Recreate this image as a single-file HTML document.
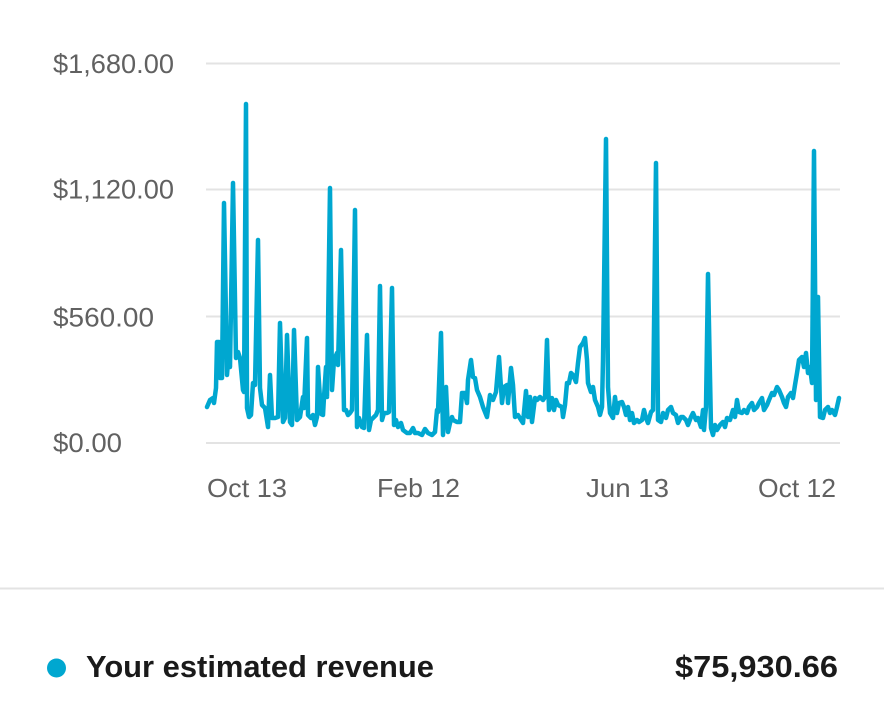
<!DOCTYPE html>
<html>
<head>
<meta charset="utf-8">
<style>
  html, body { margin: 0; padding: 0; background: #ffffff; }
  svg { display: block; }
  .yl { font-family: "Liberation Sans", sans-serif; font-size: 27px; fill: #616161; }
  .xl { font-family: "Liberation Sans", sans-serif; font-size: 26px; fill: #616161; }
  .lg { font-family: "Liberation Sans", sans-serif; font-size: 31px; font-weight: bold; fill: #1a1a1a; }
</style>
</head>
<body>
<svg width="884" height="715" viewBox="0 0 884 715" xmlns="http://www.w3.org/2000/svg">
  <rect x="0" y="0" width="884" height="715" fill="#ffffff"/>
  <!-- gridlines -->
  <g stroke="#e3e3e3" stroke-width="2">
    <line x1="206" y1="63.5" x2="840" y2="63.5"/>
    <line x1="206" y1="189.5" x2="840" y2="189.5"/>
    <line x1="206" y1="316.5" x2="840" y2="316.5"/>
    <line x1="206" y1="443" x2="840" y2="443"/>
  </g>
  <!-- y labels -->
  <text class="yl" x="53" y="73" textLength="121" lengthAdjust="spacingAndGlyphs">$1,680.00</text>
  <text class="yl" x="53" y="198.5" textLength="121" lengthAdjust="spacingAndGlyphs">$1,120.00</text>
  <text class="yl" x="53" y="326.5" textLength="101" lengthAdjust="spacingAndGlyphs">$560.00</text>
  <text class="yl" x="53" y="452" textLength="69" lengthAdjust="spacingAndGlyphs">$0.00</text>
  <!-- x labels -->
  <text class="xl" x="207" y="497" textLength="80" lengthAdjust="spacingAndGlyphs">Oct 13</text>
  <text class="xl" x="377" y="497" textLength="83" lengthAdjust="spacingAndGlyphs">Feb 12</text>
  <text class="xl" x="586" y="497" textLength="83" lengthAdjust="spacingAndGlyphs">Jun 13</text>
  <text class="xl" x="758" y="497" textLength="78" lengthAdjust="spacingAndGlyphs">Oct 12</text>
  <!-- series -->
  <polyline fill="none" stroke="#00a7d0" stroke-width="4.5" stroke-linejoin="round" stroke-linecap="round"
    points="207,407 210,400 213,398 214,403 216,388 217,342 219,342 220,378 222,378 224,203 227,375 228,362 230,367 233,183 236,358 238,352 240,358 243,390 244,392 246,104 247,408 249,417 251,415 253,383 255,385 258,240 260,388 262,405 265,408 268,427 270,375 272,418 275,418 278,417 280,323 283,422 285,418 287,335 290,422 292,425 294,330 297,420 300,417 303,397 304,408 307,338 308,415 311,418 313,415 315,425 317,417 318,367 321,414 323,415 324,397 326,367 327,397 330,188 332,390 334,360 337,353 338,365 341,250 344,410 346,410 348,415 350,413 352,410 355,210 357,427 359,418 362,427 364,428 367,335 369,430 371,420 373,418 376,415 378,410 380,286 382,420 384,413 387,413 389,412 392,288 394,425 396,420 398,427 401,423 403,430 407,433 410,433 413,428 415,433 418,433 422,435 425,429 428,433 432,435 435,432 437,410 438,412 441,333 443,435 446,387 448,432 450,423 452,417 453,420 457,422 460,422 462,393 465,393 467,403 468,380 471,360 473,377 475,378 477,390 480,397 483,407 487,417 490,395 493,400 496,392 499,357 502,403 504,387 507,385 508,403 511,368 513,385 515,417 518,415 521,420 523,423 526,391 528,417 530,397 532,422 535,398 537,400 540,397 543,400 545,397 547,340 549,410 552,398 554,410 556,400 558,405 562,407 563,417 565,405 567,383 569,383 571,373 573,375 576,382 578,363 580,347 583,343 585,338 587,360 588,383 591,392 593,387 595,400 598,407 600,415 602,407 603,360 606,139 608,387 610,413 613,418 615,397 617,413 619,403 622,402 624,407 626,415 628,407 630,420 632,413 634,423 637,420 639,422 642,420 644,410 646,418 648,423 651,412 653,410 656,163 658,420 661,422 663,413 666,418 668,410 671,407 673,413 676,415 678,423 681,417 683,417 686,420 688,425 691,417 693,413 696,420 698,418 701,427 703,410 704,430 706,407 708,274 711,428 713,435 715,425 717,430 720,425 723,422 725,427 727,418 730,420 733,410 735,417 737,400 739,412 742,413 744,410 747,413 749,407 752,403 754,410 757,407 759,403 762,398 764,410 767,405 769,400 772,393 774,395 777,387 779,390 782,397 784,403 786,407 788,397 791,393 793,398 795,385 797,373 799,360 802,357 804,367 806,353 808,373 810,367 812,383 814,151 816,400 818,297 820,417 823,418 825,410 828,407 830,413 832,410 835,415 837,407 839,398"/>
  <!-- divider -->
  <rect x="0" y="587.5" width="884" height="2" fill="#e3e3e3"/>
  <!-- legend -->
  <circle cx="56.5" cy="668" r="9.5" fill="#00a7d0"/>
  <text class="lg" x="86" y="677" textLength="348" lengthAdjust="spacingAndGlyphs">Your estimated revenue</text>
  <text class="lg" x="838" y="677" text-anchor="end" textLength="163" lengthAdjust="spacingAndGlyphs">$75,930.66</text>
</svg>
</body>
</html>
